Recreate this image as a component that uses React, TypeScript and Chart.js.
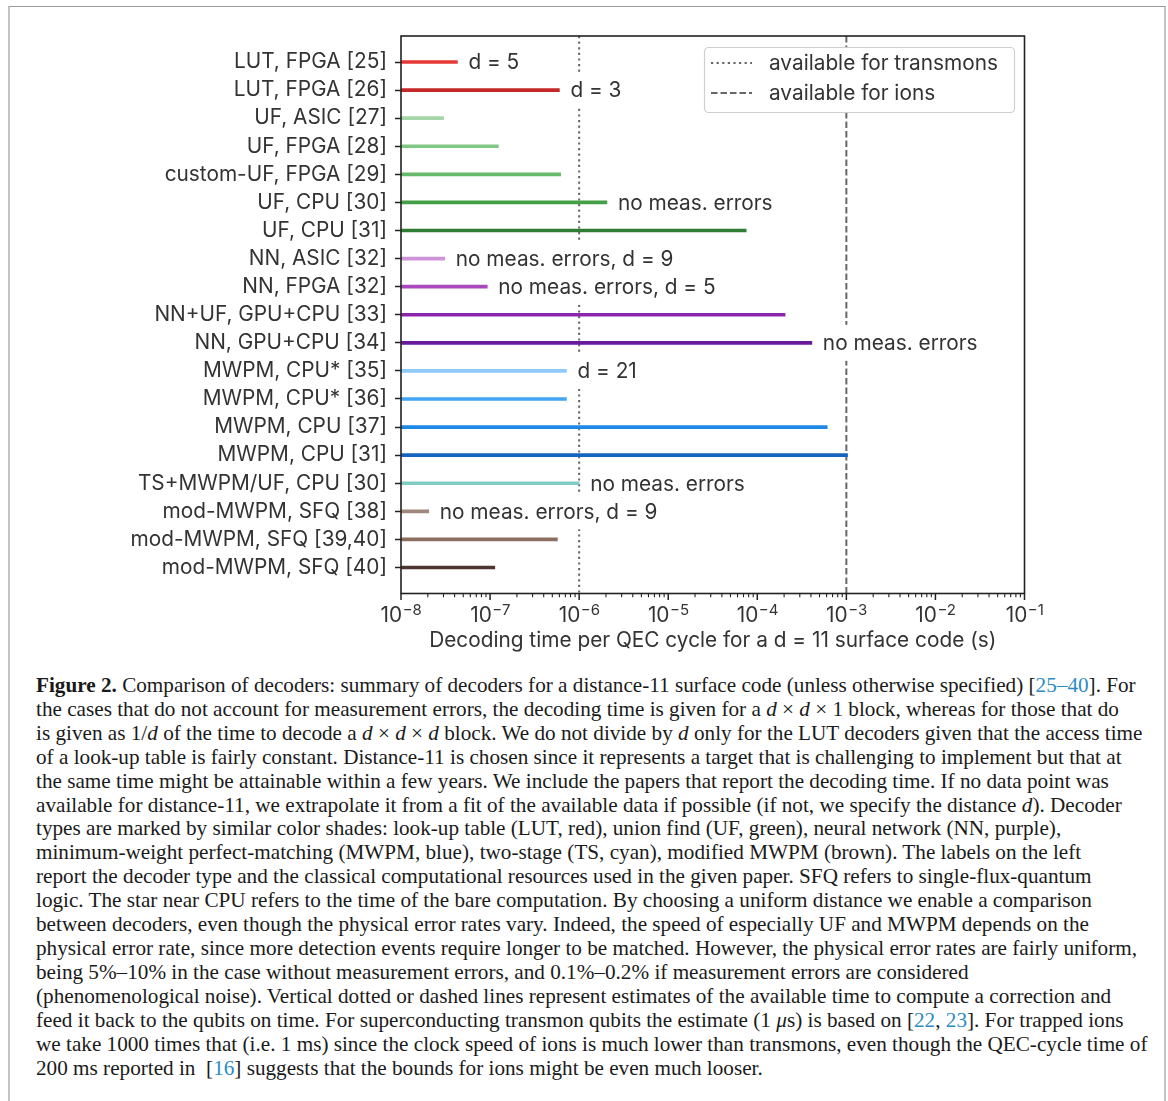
import React, { useEffect, useRef } from "react";
import { Chart, registerables } from "chart.js";

Chart.register(...registerables);

// ---------------- data ----------------
const categories = [
  "LUT, FPGA [25]",
  "LUT, FPGA [26]",
  "UF, ASIC [27]",
  "UF, FPGA [28]",
  "custom-UF, FPGA [29]",
  "UF, CPU [30]",
  "UF, CPU [31]",
  "NN, ASIC [32]",
  "NN, FPGA [32]",
  "NN+UF, GPU+CPU [33]",
  "NN, GPU+CPU [34]",
  "MWPM, CPU* [35]",
  "MWPM, CPU* [36]",
  "MWPM, CPU [37]",
  "MWPM, CPU [31]",
  "TS+MWPM/UF, CPU [30]",
  "mod-MWPM, SFQ [38]",
  "mod-MWPM, SFQ [39,40]",
  "mod-MWPM, SFQ [40]",
];

// decoding time per QEC cycle (s)
const decodingTimes = [
  4.3e-8, 6.0e-7, 3.0e-8, 1.24e-7, 6.2e-7, 2.05e-6, 7.5e-5, 3.1e-8, 9.3e-8,
  2.05e-4, 4.1e-4, 7.2e-7, 7.2e-7, 6.1e-4, 1.03e-3, 1.0e-6, 2.05e-8, 5.7e-7,
  1.13e-7,
];

const notes = [
  "d = 5",
  "d = 3",
  "",
  "",
  "",
  "no meas. errors",
  "",
  "no meas. errors, d = 9",
  "no meas. errors, d = 5",
  "",
  "no meas. errors",
  "d = 21",
  "",
  "",
  "",
  "no meas. errors",
  "no meas. errors, d = 9",
  "",
  "",
];

const barColors = [
  "#e53935",
  "#c62828",
  "#a5d6a7",
  "#81c784",
  "#66bb6a",
  "#43a047",
  "#2e7d32",
  "#ce93d8",
  "#ab47bc",
  "#8e24aa",
  "#6a1b9a",
  "#90caf9",
  "#42a5f5",
  "#1e88e5",
  "#1565c0",
  "#80cbc4",
  "#a1887f",
  "#8d6e63",
  "#4e342e",
];

const thresholdValues = [1e-6, 1e-3];
const thresholdLabels = ["available for transmons", "available for ions"];
const thresholdDashes = [
  [2.2, 3.4],
  [6.5, 3],
];

const xMin = 1e-8;
const xMax = 1e-1;
const decadeExponents = [-8, -7, -6, -5, -4, -3, -2, -1];
const xTitle = "Decoding time per QEC cycle for a d = 11 surface code (s)";

// ---------------- styles ----------------
const FONT = "Inter, 'Open Sans', sans-serif";
const FS = 20.8;
const TEXT = "#333333";
const AXIS = "#222222";
const VLINE = "#666666";
const YPAD = 0.926;

const decorPlugin = {
  id: "decor",
  afterDatasetsDraw(chart: any) {
    const { ctx, chartArea: a, scales } = chart;
    const x = scales.x;
    const y = scales.y;
    ctx.save();
    ctx.font = `${FS}px ${FONT}`;
    ctx.textBaseline = "middle";
    ctx.textAlign = "left";
    const items: any[] = [];
    notes.forEach((n, i) => {
      if (!n) return;
      const px = x.getPixelForValue(decodingTimes[i]) + 11;
      const py = y.getPixelForValue(i);
      const w = ctx.measureText(n).width;
      items.push({ n, px, py, w });
    });
    ctx.fillStyle = "#ffffff";
    items.forEach((it) => ctx.fillRect(it.px - 7, it.py - 18, it.w + 14, 36));
    ctx.fillStyle = TEXT;
    items.forEach((it) => ctx.fillText(it.n, it.px, it.py + 1));

    // legend
    const bx = a.left + 303;
    const by = a.top + 11;
    const bw = 310;
    const bh = 65;
    ctx.beginPath();
    (ctx as any).roundRect(bx + 0.5, by + 0.5, bw, bh, 4);
    ctx.fillStyle = "#ffffff";
    ctx.fill();
    ctx.strokeStyle = "#cfcfcf";
    ctx.lineWidth = 1.2;
    ctx.stroke();
    thresholdLabels.forEach((lab, i) => {
      const ly = by + 16 + i * 30;
      ctx.beginPath();
      ctx.setLineDash(thresholdDashes[i]);
      ctx.strokeStyle = VLINE;
      ctx.lineWidth = 2;
      ctx.moveTo(bx + 7, ly);
      ctx.lineTo(bx + 48, ly);
      ctx.stroke();
      ctx.setLineDash([]);
      ctx.fillStyle = TEXT;
      ctx.fillText(lab, bx + 65, ly + 1);
    });
    ctx.restore();
  },
  afterDraw(chart: any) {
    const { ctx, chartArea: a, scales } = chart;
    const x = scales.x;
    ctx.save();
    // frame
    ctx.strokeStyle = AXIS;
    ctx.lineWidth = 1.6;
    ctx.strokeRect(a.left, a.top, a.right - a.left, a.bottom - a.top);
    // x ticks
    const supFS = Math.round(FS * 0.7);
    decadeExponents.forEach((e) => {
      const v = Math.pow(10, e);
      const px = x.getPixelForValue(v);
      ctx.beginPath();
      ctx.lineWidth = 1.5;
      ctx.moveTo(px, a.bottom);
      ctx.lineTo(px, a.bottom + 6.5);
      ctx.stroke();
      if (v < xMax) {
        for (let k = 2; k <= 9; k++) {
          const mx = x.getPixelForValue(k * v);
          ctx.beginPath();
          ctx.lineWidth = 1.1;
          ctx.moveTo(mx, a.bottom);
          ctx.lineTo(mx, a.bottom + 3.8);
          ctx.stroke();
        }
      }
      // label 10^e
      const base = "10";
      const sup = "\u2212" + String(Math.abs(e));
      ctx.font = `${FS}px ${FONT}`;
      const w1 = ctx.measureText(base).width;
      ctx.font = `${supFS}px ${FONT}`;
      const w2 = ctx.measureText(sup).width;
      const sx = px - (w1 + w2) / 2;
      ctx.fillStyle = TEXT;
      ctx.textBaseline = "alphabetic";
      ctx.textAlign = "left";
      ctx.font = `${FS}px ${FONT}`;
      ctx.fillText(base, sx, a.bottom + 28.5);
      ctx.font = `${supFS}px ${FONT}`;
      ctx.fillText(sup, sx + w1 + 0.5, a.bottom + 21.5);
    });
    ctx.restore();
  },
};

function App() {
  const ref = useRef<HTMLCanvasElement | null>(null);

  useEffect(() => {
    if (!ref.current) return;
    const bars = {
      type: "bar",
      label: "decoders",
      data: decodingTimes.map((v, i) => ({ x: [xMin, v], y: i })),
      backgroundColor: barColors,
      borderWidth: 0,
      barThickness: 3,
      indexAxis: "y",
      order: 1,
    };
    const lines = thresholdValues.map((v, i) => ({
      type: "line",
      label: thresholdLabels[i],
      data: [
        { x: v, y: -YPAD },
        { x: v, y: categories.length - 1 + YPAD },
      ],
      borderColor: VLINE,
      borderWidth: 2,
      borderDash: thresholdDashes[i],
      borderCapStyle: "butt",
      pointRadius: 0,
      order: 2,
    }));
    const chart = new Chart(ref.current, {
      type: "bar",
      data: { datasets: [bars as any, ...(lines as any)] },
      options: {
        indexAxis: "y",
        animation: false,
        responsive: false,
        devicePixelRatio: 1,
        layout: { padding: { top: 36, right: 143.5, bottom: 0, left: 0 } },
        plugins: {
          legend: { display: false },
          tooltip: { enabled: false },
        },
        scales: {
          x: {
            type: "logarithmic",
            position: "bottom",
            min: xMin,
            max: xMax,
            offset: false,
            grid: { display: false },
            border: { display: false },
            ticks: { display: false },
            title: {
              display: true,
              text: xTitle,
              color: TEXT,
              font: { family: FONT, size: FS },
              padding: { top: 0, bottom: 7 },
            },
            afterFit: (s: any) => {
              s.height = 66.5;
            },
          },
          y: {
            type: "linear",
            reverse: true,
            offset: false,
            bounds: "data",
            min: -YPAD,
            max: categories.length - 1 + YPAD,
            afterBuildTicks: (s: any) => {
              s.ticks = categories.map((_, i) => ({ value: i }));
            },
            afterFit: (s: any) => {
              s.width = 401;
            },
            grid: {
              offset: false,
              drawOnChartArea: false,
              drawTicks: true,
              tickLength: 6,
              tickColor: AXIS,
              tickWidth: 1.5,
            },
            border: { display: false },
            ticks: {
              autoSkip: false,
              padding: 8,
              color: TEXT,
              font: { family: FONT, size: FS },
              callback: (v: any) => categories[Math.round(Number(v))] ?? "",
            },
          },
        },
      } as any,
      plugins: [decorPlugin],
    });
    return () => chart.destroy();
  }, []);

  const blue = { color: "#2b8cc4" };
  const lines: React.ReactNode[] = [
    <>
      <b>Figure 2.</b> Comparison of decoders: summary of decoders for a distance-11 surface code (unless otherwise specified) [
      <span style={blue}>25–40</span>]. For
    </>,
    <>
      the cases that do not account for measurement errors, the decoding time is given for a <i>d</i> × <i>d</i> × 1 block, whereas for those that do
    </>,
    <>
      is given as 1/<i>d</i> of the time to decode a <i>d</i> × <i>d</i> × <i>d</i> block. We do not divide by <i>d</i> only for the LUT decoders given that the access time
    </>,
    <>of a look-up table is fairly constant. Distance-11 is chosen since it represents a target that is challenging to implement but that at</>,
    <>the same time might be attainable within a few years. We include the papers that report the decoding time. If no data point was</>,
    <>
      available for distance-11, we extrapolate it from a fit of the available data if possible (if not, we specify the distance <i>d</i>). Decoder
    </>,
    <>types are marked by similar color shades: look-up table (LUT, red), union find (UF, green), neural network (NN, purple),</>,
    <>minimum-weight perfect-matching (MWPM, blue), two-stage (TS, cyan), modified MWPM (brown). The labels on the left</>,
    <>report the decoder type and the classical computational resources used in the given paper. SFQ refers to single-flux-quantum</>,
    <>logic. The star near CPU refers to the time of the bare computation. By choosing a uniform distance we enable a comparison</>,
    <>between decoders, even though the physical error rates vary. Indeed, the speed of especially UF and MWPM depends on the</>,
    <>physical error rate, since more detection events require longer to be matched. However, the physical error rates are fairly uniform,</>,
    <>being 5%–10% in the case without measurement errors, and 0.1%–0.2% if measurement errors are considered</>,
    <>(phenomenological noise). Vertical dotted or dashed lines represent estimates of the available time to compute a correction and</>,
    <>
      feed it back to the qubits on time. For superconducting transmon qubits the estimate (1 <i>μ</i>s) is based on [
      <span style={blue}>22</span>, <span style={blue}>23</span>]. For trapped ions
    </>,
    <>we take 1000 times that (i.e. 1 ms) since the clock speed of ions is much lower than transmons, even though the QEC-cycle time of</>,
    <>
      200 ms reported in  [<span style={blue}>16</span>] suggests that the bounds for ions might be even much looser.
    </>,
  ];

  return (
    <>
      <div
        style={{
          position: "absolute",
          left: 8,
          top: 6,
          width: 1154,
          height: 1095,
          borderTop: "1px solid #9a9a9a",
          borderLeft: "2px solid #c4c4c4",
          borderRight: "2px solid #c4c4c4",
          boxSizing: "content-box",
          background: "#ffffff",
        }}
      />
      <div style={{ position: "absolute", left: 0, top: 0, width: 1168, height: 660 }}>
        <canvas ref={ref} width={1168} height={660} style={{ display: "block" }} />
      </div>
      <div
        style={{
          position: "absolute",
          left: 36,
          top: 674,
          fontFamily: "'Liberation Serif', 'Times New Roman', serif",
          fontSize: 21.2,
          lineHeight: "23.9px",
          color: "#1a1a1a",
          whiteSpace: "pre",
        }}
      >
        {lines.map((l, i) => (
          <div key={i}>{l}</div>
        ))}
      </div>
    </>
  );
}

export default App;
